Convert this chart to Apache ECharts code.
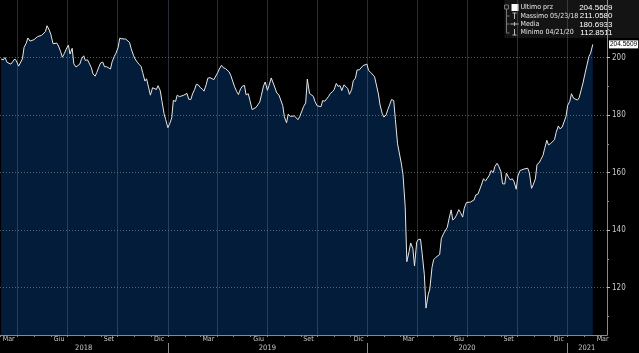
<!DOCTYPE html>
<html>
<head>
<meta charset="utf-8">
<script src="https://cdn.jsdelivr.net/npm/echarts@6/dist/echarts.min.js"></script>
<style>
html,body{margin:0;padding:0;background:#000;}
#chart{width:639px;height:353px;}
</style>
</head>
<body>
<div id="chart"></div>
<script>
// closes twice a week (friday, tuesday), first value on friday 2018-03-02
const prices = [
	199.5, 199.2, 200, 198.3, 197.8, 197.7, 198.3, 199.5, 198.8, 197,
	196.6, 199.5, 203.5, 205, 206.8, 205.7, 205.8, 206.2, 206.7, 207.3,
	207.8, 207.7, 207.2, 209, 211.058, 209.6, 208, 204.8, 204.7, 205,
	204, 202, 200.1, 201.5, 202.9, 204.3, 201.2, 203.2, 197.8, 196.7,
	196.4, 197.7, 199.5, 200.6, 199, 199.2, 198.6, 196.5, 194.3, 193.5,
	194.8, 196.8, 198.1, 198.4, 196.8, 196.8, 197.2, 196, 198.5, 200.4,
	201.5, 203.5, 206.7, 206.5, 206.1, 206.4, 206, 205.2, 203, 200.8,
	199.5, 198.4, 197.7, 196.9, 194.7, 191.8, 192.6, 189.4, 186.9, 189.5,
	190, 188.9, 190.2, 188.5, 185, 180.5, 178.4, 175.6, 176.8, 179,
	185.1, 184.7, 186.9, 186.4, 186.9, 186.8, 187, 187.5, 185.5, 185.4,
	187.3, 188.9, 190.7, 190.4, 189.6, 189, 188.3, 190.5, 192.8, 193,
	193.3, 192.3, 192.5, 194.7, 196, 197.3, 196.5, 196.2, 196, 195,
	193.8, 191.5, 189.8, 188.1, 187.1, 189.1, 190, 190.3, 187, 187.4,
	185.1, 181.9, 182.5, 182.6, 182.9, 184.5, 186.9, 190.2, 191.5, 188.6,
	190.3, 192.9, 192.7, 189.4, 187.7, 187, 186.6, 183.3, 179.4, 177.3,
	180.3, 179.5, 179.9, 179.7, 179.1, 178.4, 179.4, 181.4, 182.9, 184.2,
	192.5, 187.5, 187.2, 186.5, 184.7, 183.2, 182.9, 182.9, 185, 184.8,
	185.3, 186.5, 187.5, 188.1, 188.8, 191, 190, 190.2, 188.5, 190.5,
	191, 189.2, 187.2, 188.8, 191.9, 192.8, 195.7, 195.7, 196.2, 197.2,
	197.6, 197.7, 195.5, 194.8, 194.4, 193.3, 192.8, 187.3, 183.5, 180.5,
	179.3, 180, 181.8, 183.8, 185.4, 185, 178.5, 170, 170.5, 163,
	159.2, 148.1, 129, 132.5, 135.5, 133.5, 127.5, 135.8, 136.7, 136.8,
	131.8, 124.5, 112.8511, 117.5, 119.5, 127, 129.7, 130.5, 130, 131.5,
	137, 138.7, 138.1, 141, 143.8, 147, 143.5, 144.2, 145.3, 147.1,
	146.1, 144.5, 147.6, 149.6, 150.2, 149.7, 149.4, 150.5, 152.2, 152.5,
	153, 156, 157.8, 157.1, 157.5, 159.1, 160.7, 160, 162.1, 163.2,
	162.2, 160.3, 156.1, 156, 159.8, 158.3, 157.5, 157.8, 156.8, 154.2,
	158.8, 160.7, 161.2, 161.2, 161.7, 161.5, 160, 154.5, 155.7, 157.8,
	162.8, 163.4, 164.5, 166, 168.4, 171.2, 169.6, 170.1, 169.9, 171.4,
	174, 176.2, 175.2, 175.8, 175.8, 179.5, 183.3, 184.8, 187.4, 185.8,
	186.4, 185.2, 186, 188.9, 191.1, 194.6, 197.1, 200.4, 201.5, 204.5609
];

const axisStart = '2018-02-28';
const axisEnd = '2021-03-14';
const monthNames = ['Gen','Feb','Mar','Apr','Mag','Giu','Lug','Ago','Set','Ott','Nov','Dic'];
const monthLabelDates = ['2018-03-16','2018-06-16','2018-09-15','2018-12-16',
	'2019-03-16','2019-06-16','2019-09-15','2019-12-16',
	'2020-03-16','2020-06-16','2020-09-15','2020-12-16','2021-03-06'];
const yearLabels = ['2018','2019','2020','2021'];
const yearLabelDates = ['2018-07-31','2019-07-02','2020-07-01','2021-02-05'];
const yearStarts = ['2019-01-01','2020-01-01','2021-01-01'];
const priceTicks = [120,140,160,180,200];
const minorPriceTicks = [110,130,150,170,190,210];

const statNames = ['Ultimo prz','Massimo 05/23/18','Media','Minimo 04/21/20'];
const statValues = [204.5609, 211.0580, 180.6933, 112.8511];

const narrow = '"Liberation Sans Narrow", "DejaVu Sans Condensed", sans-serif';
const plain = '"Liberation Sans", Arial, sans-serif';
const txtcolor = '#c8c8c8';
const axiscolor = '#8a8a8a';

function ts(s){
	let p=s.split('-');
	return new Date(+p[0],+p[1]-1,+p[2]).getTime();
}

// friday then the tuesday after it
function closeDate(j){
	return new Date(2018,2,2+7*Math.floor(j/2)+(j%2)*4).getTime();
}

let seriesData = prices.map(function(v,j){ return [closeDate(j), v]; });
let lastValue = prices[prices.length-1];

let monthTicks=[];
for(let k=0;k<=36;k++) monthTicks.push(new Date(2018,2+k,1).getTime());
let quarterLines=[];
for(let k=0;k<12;k++) quarterLines.push(new Date(2018,3+3*k,1).getTime());

let monthLabelTs = monthLabelDates.map(ts);
let yearLabelTs = yearLabelDates.map(ts);
let xMin = ts(axisStart), xMax = ts(axisEnd);

// legend box (top right)
function legendBox(){
	let kids = [
		{type:'rect', shape:{x:0,y:0,width:137,height:38}, style:{fill:'#141414'}},
		{type:'rect', shape:{x:0,y:5,width:4,height:4}, style:{fill:'none',stroke:'#777',lineWidth:1}},
		{type:'line', shape:{x1:2,y1:9,x2:2,y2:33}, style:{stroke:'#777',lineWidth:1}},
		{type:'line', shape:{x1:2,y1:16,x2:5,y2:16}, style:{stroke:'#777',lineWidth:1}},
		{type:'line', shape:{x1:2,y1:24,x2:5,y2:24}, style:{stroke:'#777',lineWidth:1}},
		{type:'line', shape:{x1:2,y1:33,x2:5,y2:33}, style:{stroke:'#777',lineWidth:1}},
		{type:'rect', shape:{x:7,y:4,width:7,height:7}, style:{fill:'#fff'}},
		{type:'line', shape:{x1:8,y1:13,x2:12,y2:13}, style:{stroke:'#bbb',lineWidth:1}},
		{type:'line', shape:{x1:10,y1:13,x2:10,y2:19}, style:{stroke:'#bbb',lineWidth:1}},
		{type:'line', shape:{x1:6,y1:24,x2:14,y2:24}, style:{stroke:'#bbb',lineWidth:1}},
		{type:'line', shape:{x1:10,y1:22,x2:10,y2:26}, style:{stroke:'#bbb',lineWidth:1}},
		{type:'line', shape:{x1:10,y1:29,x2:10,y2:35}, style:{stroke:'#bbb',lineWidth:1}},
		{type:'line', shape:{x1:8,y1:35,x2:12,y2:35}, style:{stroke:'#bbb',lineWidth:1}}
	];
	let rowy=[7.5,16,24.3,32.5];
	for(let i=0;i<statNames.length;i++){
		kids.push({type:'text', style:{text:statNames[i], x:16, y:rowy[i], fill:'#e8e8e8', font:'7px '+narrow, verticalAlign:'middle'}});
		kids.push({type:'text', style:{text:statValues[i].toFixed(4), x:108, y:rowy[i], fill:'#ffffff', font:'8px '+plain, align:'right', verticalAlign:'middle'}});
	}
	return {type:'group', left:502, top:0, z:10, children:kids};
}

let mychart = echarts.init(document.getElementById('chart'));

mychart.setOption({
	backgroundColor:'#000',
	animation:false,
	grid:{left:0,right:32,top:0,bottom:18,containLabel:false,outerBoundsMode:'none'},
	xAxis:[
		{
			type:'value', min:xMin, max:xMax, position:'bottom',
			axisLine:{onZero:false, lineStyle:{color:axiscolor,width:1}},
			axisTick:{customValues:monthTicks, length:2, lineStyle:{color:axiscolor}},
			axisLabel:{customValues:monthLabelTs, margin:1, color:txtcolor, fontSize:7, fontFamily:narrow,
				formatter:function(v){ return monthNames[new Date(v).getMonth()]; }},
			splitLine:{show:false}
		},
		{
			// quarter grid lines
			type:'value', min:xMin, max:xMax, position:'bottom', z:2,
			axisLine:{show:false},
			axisTick:{show:false, customValues:quarterLines},
			axisLabel:{show:false},
			splitLine:{show:true, lineStyle:{color:'rgba(110,130,160,0.35)', width:1}}
		},
		{
			// years row
			type:'value', min:xMin, max:xMax, position:'bottom', offset:8,
			axisLine:{show:false},
			axisTick:{customValues:yearStarts.map(ts), length:10, lineStyle:{color:axiscolor}},
			axisLabel:{customValues:yearLabelTs, margin:1, color:txtcolor, fontSize:7.5, fontFamily:narrow,
				formatter:function(v){ return yearLabels[yearLabelTs.indexOf(v)]; }},
			splitLine:{show:false}
		}
	],
	yAxis:[
		{
			type:'value', position:'right', min:103.5, max:220, z:2,
			axisLine:{show:true, onZero:false, lineStyle:{color:axiscolor}},
			axisTick:{show:true, customValues:priceTicks, length:3, lineStyle:{color:'#bbb'}},
			axisLabel:{customValues:priceTicks, margin:5, color:txtcolor, fontSize:8, fontFamily:narrow},
			splitLine:{show:true, lineStyle:{color:'rgba(160,160,160,0.55)', type:[1,2]}}
		},
		{
			type:'value', position:'right', min:103.5, max:220,
			axisLine:{show:false},
			axisTick:{show:true, customValues:minorPriceTicks, length:2, lineStyle:{color:'#999'}},
			axisLabel:{show:false},
			splitLine:{show:false}
		}
	],
	series:[
		{
			type:'line', data:seriesData, symbol:'none', showSymbol:false, z:1, silent:true,
			lineStyle:{color:'rgba(0,0,0,0)', width:1},
			areaStyle:{color:'#021c3a', opacity:1, origin:'start'}
		},
		{
			type:'line', data:seriesData, symbol:'none', showSymbol:false, z:3,
			lineStyle:{color:'#e6e6e6', width:1},
			markLine:{
				silent:true, symbol:['none','none'],
				lineStyle:{color:'rgba(0,0,0,0)'},
				data:[{yAxis:lastValue}],
				label:{position:'end', distance:2, formatter:function(){ return lastValue.toFixed(4); },
					backgroundColor:'#fff', color:'#000', fontSize:6.5, fontFamily:plain, padding:[1,1,0,1]}
			}
		}
	],
	graphic:[legendBox()]
});
</script>
</body>
</html>
